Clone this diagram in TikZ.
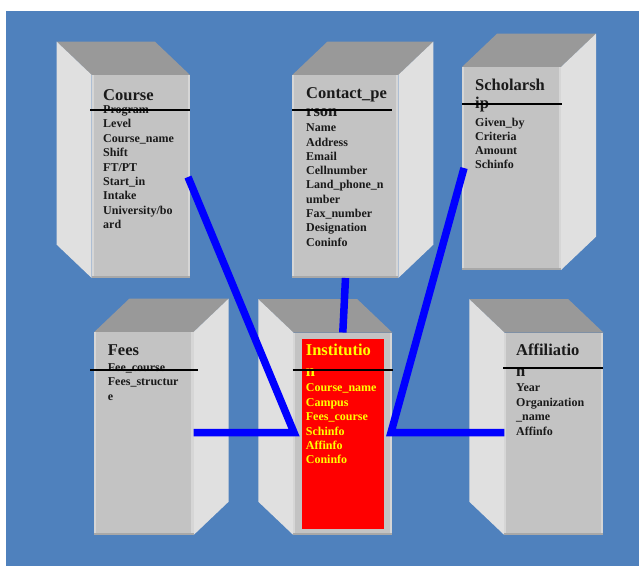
\documentclass[tikz,border=0pt]{standalone}
\usepackage{fontspec}
\setmainfont{Liberation Serif}
\usetikzlibrary{calc}
\definecolor{bgblue}{HTML}{4F81BD}
\definecolor{topgray}{HTML}{999999}
\definecolor{sidegray}{HTML}{E0E0E0}
\definecolor{frontgray}{HTML}{C3C3C3}
\definecolor{edgelight}{HTML}{D6D6D6}
\definecolor{edgedark}{HTML}{A8A8A8}
\definecolor{connblue}{HTML}{0000FF}
\definecolor{titleyellow}{HTML}{FFFF00}
\definecolor{textdark}{HTML}{1A1A1A}
\tikzset{
  front/.style={rectangle, fill=frontgray, inner sep=0pt, outer sep=0pt, anchor=north west},
  title/.style={font=\bfseries\fontsize{16.5}{18}\selectfont, anchor=base west, inner sep=0pt, text=textdark},
  attr/.style={font=\bfseries\fontsize{12}{14}\selectfont, anchor=base west, inner sep=0pt, text=textdark},
  sep/.style={line width=2pt, draw=black},
  conn/.style={line width=7.5pt, draw=connblue, line join=miter},
}
\newcommand{\frontedges}[1]{%
  \fill[edgelight] (#1.north west) rectangle ($(#1.south west)+(2,0)$);
  \fill[edgelight] ($(#1.north east)+(-2.5,0)$) rectangle (#1.south east);
  \fill[edgedark] ($(#1.south west)+(0,-2.5)$) rectangle (#1.south east);
}
\newcommand{\erboxL}[5]{%
  \fill[topgray] ({#2-35},{#3-33.3}) -- ({#2-35+#4},{#3-33.3}) -- ({#2+#4},#3) -- (#2,#3) -- cycle;
  \fill[sidegray] ({#2-35},{#3-33.3}) -- (#2,#3) -- (#2,{#3+#5}) -- ({#2-35},{#3+#5-33.3}) -- cycle;
  \node[front, minimum width=#4pt, minimum height=#5pt] (#1) at (#2,#3) {};
  \frontedges{#1}
}
\newcommand{\erboxR}[5]{%
  \fill[topgray] (#2,#3) -- ({#2+35},{#3-33.3}) -- ({#2+#4+35},{#3-33.3}) -- ({#2+#4},#3) -- cycle;
  \fill[sidegray] ({#2+#4},#3) -- ({#2+#4+35},{#3-33.3}) -- ({#2+#4+35},{#3+#5-33.3}) -- ({#2+#4},{#3+#5}) -- cycle;
  \node[front, minimum width=#4pt, minimum height=#5pt] (#1) at (#2,#3) {};
  \frontedges{#1}
}
\begin{document}
\begin{tikzpicture}[x=1pt, y=-1pt]
\useasboundingbox (0,0) rectangle (639,566);
\fill[white] (0,0) rectangle (639,566);
\fill[bgblue] (5.5,11) rectangle (639,566);

% boxes
\erboxL{course}{91.7}{75}{98.3}{203}
\erboxR{contact}{292.3}{75}{106}{203}
\erboxR{scholar}{462}{67}{99}{203}
\erboxR{fees}{94.3}{332}{99.3}{203}
\erboxL{inst}{293.3}{332.5}{99}{202.5}
\erboxL{affil}{504.3}{332.5}{99}{202.5}
\node[fill=red, inner sep=0pt, outer sep=0pt, minimum width=82.3pt, minimum height=190pt, anchor=north west] (instred) at (301.7,339) {};

% titles
\node[title] (course-t) at (103,100) {Course};
\node[title] (contact-t1) at (306,98.3) {Contact\_pe};
\node[title] (contact-t2) at (306,116.7) {rson};
\node[title] (scholar-t1) at (475,90) {Scholarsh};
\node[title] (scholar-t2) at (475,108.3) {ip};
\node[title] (fees-t) at (107.7,355.7) {Fees};
\node[title, text=titleyellow] (inst-t1) at (305.7,355.7) {Institutio};
\node[title, text=titleyellow] (inst-t2) at (305.7,376) {n};
\node[title] (affil-t1) at (516,355.7) {Affiliatio};
\node[title] (affil-t2) at (516,376) {n};

% attributes
\foreach \t [count=\i from 0] in {Program,Level,Course\_name,Shift,FT/PT,Start\_in,Intake,University/bo,ard}
  \node[attr] (course-a\i) at (103,{113.5+14.4*\i}) {\t};
\foreach \t [count=\i from 0] in {Name,Address,Email,Cellnumber,Land\_phone\_n,umber,Fax\_number,Designation,Coninfo}
  \node[attr] (contact-a\i) at (306,{131.7+14.3*\i}) {\t};
\foreach \t [count=\i from 0] in {Given\_by,Criteria,Amount,Schinfo}
  \node[attr] (scholar-a\i) at (475,{126+14.1*\i}) {\t};
\foreach \t [count=\i from 0] in {Fee\_course,Fees\_structur,e}
  \node[attr] (fees-a\i) at (107.7,{371.7+14.2*\i}) {\t};
\foreach \t [count=\i from 0] in {Course\_name,Campus,Fees\_course,Schinfo,Affinfo,Coninfo}
  \node[attr, text=titleyellow] (inst-a\i) at (305.7,{391.7+14.45*\i}) {\t};
\foreach \t [count=\i from 0] in {Year,Organization,\_name,Affinfo}
  \node[attr] (affil-a\i) at (516,{391.7+14.6*\i}) {\t};

% separators
\draw[sep] (90,110) -- (190,110);
\draw[sep] (292,110) -- (392,110);
\draw[sep] (462,104) -- (562,104);
\draw[sep] (90,370) -- (197.7,370);
\draw[sep] (292.7,370) -- (392.7,370);
\draw[sep] (503,367.7) -- (603,367.7);

% connectors
\coordinate (jL) at (294,432.5);
\coordinate (jR) at (391,432.5);
\coordinate (course-out) at ($(course.north east)+(-2,102)$);
\coordinate (scholar-out) at ($(scholar.north west)+(2,101)$);
\draw[conn] (course-out) -- (jL) -- (fees.east |- jL);
\draw[conn] (scholar-out) -- (jR) -- (affil.west |- jR);
\draw[conn] ($(contact.south)+(0.2,0)$) -- (inst.north);
\end{tikzpicture}
\end{document}
